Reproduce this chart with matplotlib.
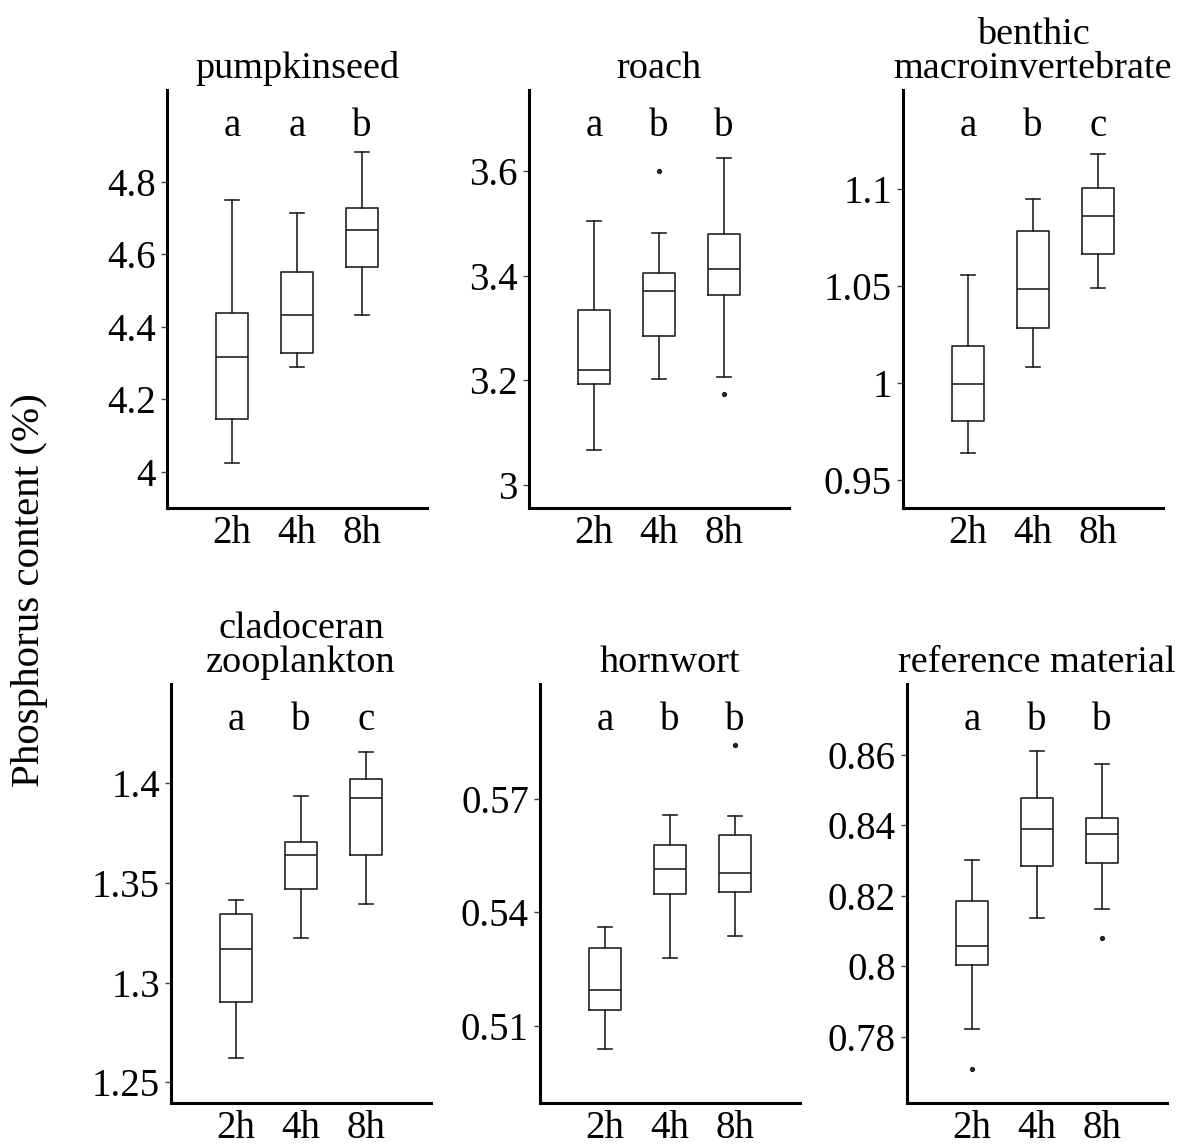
import matplotlib
matplotlib.use("Agg")
import matplotlib.pyplot as plt

plt.rcParams['font.family'] = ['Liberation Serif', 'DejaVu Serif']

groups = ['2h', '4h', '8h']

titles = ['pumpkinseed', 'roach', 'benthic\nmacroinvertebrate',
          'cladoceran\nzooplankton', 'hornwort', 'reference material']

# whisker low, Q1, median, Q3, whisker high for each group
pumpkinseed_lo = [4.025, 4.288, 4.431]
pumpkinseed_q1 = [4.145, 4.327, 4.564]
pumpkinseed_med = [4.317, 4.432, 4.668]
pumpkinseed_q3 = [4.437, 4.550, 4.728]
pumpkinseed_hi = [4.749, 4.714, 4.883]
pumpkinseed_out = [[], [], []]

roach_lo = [3.067, 3.202, 3.206]
roach_q1 = [3.192, 3.284, 3.363]
roach_med = [3.219, 3.371, 3.413]
roach_q3 = [3.334, 3.405, 3.480]
roach_hi = [3.505, 3.482, 3.625]
roach_out = [[], [3.600], [3.174]]

benthic_lo = [0.9642, 1.0082, 1.0489]
benthic_q1 = [0.9803, 1.0284, 1.0662]
benthic_med = [0.9993, 1.0482, 1.0860]
benthic_q3 = [1.0189, 1.0780, 1.1003]
benthic_hi = [1.0557, 1.0948, 1.1177]
benthic_out = [[], [], []]

clad_lo = [1.2622, 1.3224, 1.3397]
clad_q1 = [1.2904, 1.3469, 1.3639]
clad_med = [1.3171, 1.3642, 1.3925]
clad_q3 = [1.3344, 1.3704, 1.4020]
clad_hi = [1.3415, 1.3938, 1.4155]
clad_out = [[], [], []]

hornwort_lo = [0.5039, 0.5279, 0.5338]
hornwort_q1 = [0.5142, 0.5448, 0.5455]
hornwort_med = [0.5194, 0.5514, 0.5505]
hornwort_q3 = [0.5306, 0.5578, 0.5606]
hornwort_hi = [0.5361, 0.5657, 0.5655]
hornwort_out = [[], [], [0.5842]]

ref_lo = [0.7824, 0.8138, 0.8162]
ref_q1 = [0.8003, 0.8285, 0.8293]
ref_med = [0.8059, 0.8390, 0.8375]
ref_q3 = [0.8185, 0.8476, 0.8419]
ref_hi = [0.8300, 0.8611, 0.8574]
ref_out = [[0.7709], [], [0.8080]]

letters = [['a', 'a', 'b'], ['a', 'b', 'b'], ['a', 'b', 'c'],
           ['a', 'b', 'c'], ['a', 'b', 'b'], ['a', 'b', 'b']]

yticks = [[4, 4.2, 4.4, 4.6, 4.8], [3, 3.2, 3.4, 3.6], [0.95, 1, 1.05, 1.1],
          [1.25, 1.3, 1.35, 1.4], [0.51, 0.54, 0.57], [0.78, 0.8, 0.82, 0.84, 0.86]]
ytick_labels = [['4', '4.2', '4.4', '4.6', '4.8'], ['3', '3.2', '3.4', '3.6'],
                ['0.95', '1', '1.05', '1.1'], ['1.25', '1.3', '1.35', '1.4'],
                ['0.51', '0.54', '0.57'], ['0.78', '0.8', '0.82', '0.84', '0.86']]
ylims = [(3.90, 5.053), (2.955, 3.756), (0.9358, 1.1507),
         (1.2397, 1.4498), (0.4896, 0.6004), (0.7613, 0.88)]

series = [
    (pumpkinseed_lo, pumpkinseed_q1, pumpkinseed_med, pumpkinseed_q3, pumpkinseed_hi, pumpkinseed_out),
    (roach_lo, roach_q1, roach_med, roach_q3, roach_hi, roach_out),
    (benthic_lo, benthic_q1, benthic_med, benthic_q3, benthic_hi, benthic_out),
    (clad_lo, clad_q1, clad_med, clad_q3, clad_hi, clad_out),
    (hornwort_lo, hornwort_q1, hornwort_med, hornwort_q3, hornwort_hi, hornwort_out),
    (ref_lo, ref_q1, ref_med, ref_q3, ref_hi, ref_out),
]

W, H = 1197, 1147
fig = plt.figure(figsize=(W / 100, H / 100), dpi=100)

# axes boxes in pixels: left, top, bottom
lefts = [167, 529, 903, 171, 540, 907]
tops = [90, 90, 90, 684, 684, 684]
bottoms = [508, 508, 508, 1103, 1103, 1103]
ax_w = 260

for i in range(6):
    l, t, b = lefts[i], tops[i], bottoms[i]
    ax = fig.add_axes([l / W, 1 - b / H, ax_w / W, (b - t) / H])
    lo, q1, med, q3, hi, out = series[i]
    stats = []
    for j in range(3):
        stats.append(dict(whislo=lo[j], q1=q1[j], med=med[j], q3=q3[j],
                          whishi=hi[j], fliers=out[j], label=groups[j]))
    ax.bxp(stats, positions=[1, 2, 3], widths=0.5, capwidths=0.22,
           boxprops=dict(color='#222222', linewidth=1.2),
           medianprops=dict(color='#222222', linewidth=1.2),
           whiskerprops=dict(color='#222222', linewidth=1.2),
           capprops=dict(color='#222222', linewidth=1.2),
           flierprops=dict(marker='o', markersize=2.8, markerfacecolor='#222222',
                           markeredgecolor='#222222'))
    ax.set_xlim(0, 4)
    ax.set_ylim(*ylims[i])
    ax.set_yticks(yticks[i])
    ax.set_yticklabels(ytick_labels[i])
    ax.set_xticks([1, 2, 3])
    ax.set_xticklabels(groups)
    ax.tick_params(axis='both', labelsize=28, length=4, width=1, color='#444444')
    ax.tick_params(axis='x', length=0, pad=5)
    ax.tick_params(axis='y', pad=4)
    for s in ['top', 'right']:
        ax.spines[s].set_visible(False)
    for s in ['left', 'bottom']:
        ax.spines[s].set_linewidth(2.2)
    for j in range(3):
        ax.text(j + 1, 0.913, letters[i][j], transform=ax.get_xaxis_transform(),
                ha='center', va='center', fontsize=28)
    ax.set_title(titles[i], fontsize=27.5, pad=9, linespacing=0.95)

fig.text(30 / W, 1 - 590 / H, 'Phosphorus content (%)', rotation=90,
         ha='center', va='center', fontsize=29.5)

plt.savefig('out.png', dpi=100)
plt.close()
